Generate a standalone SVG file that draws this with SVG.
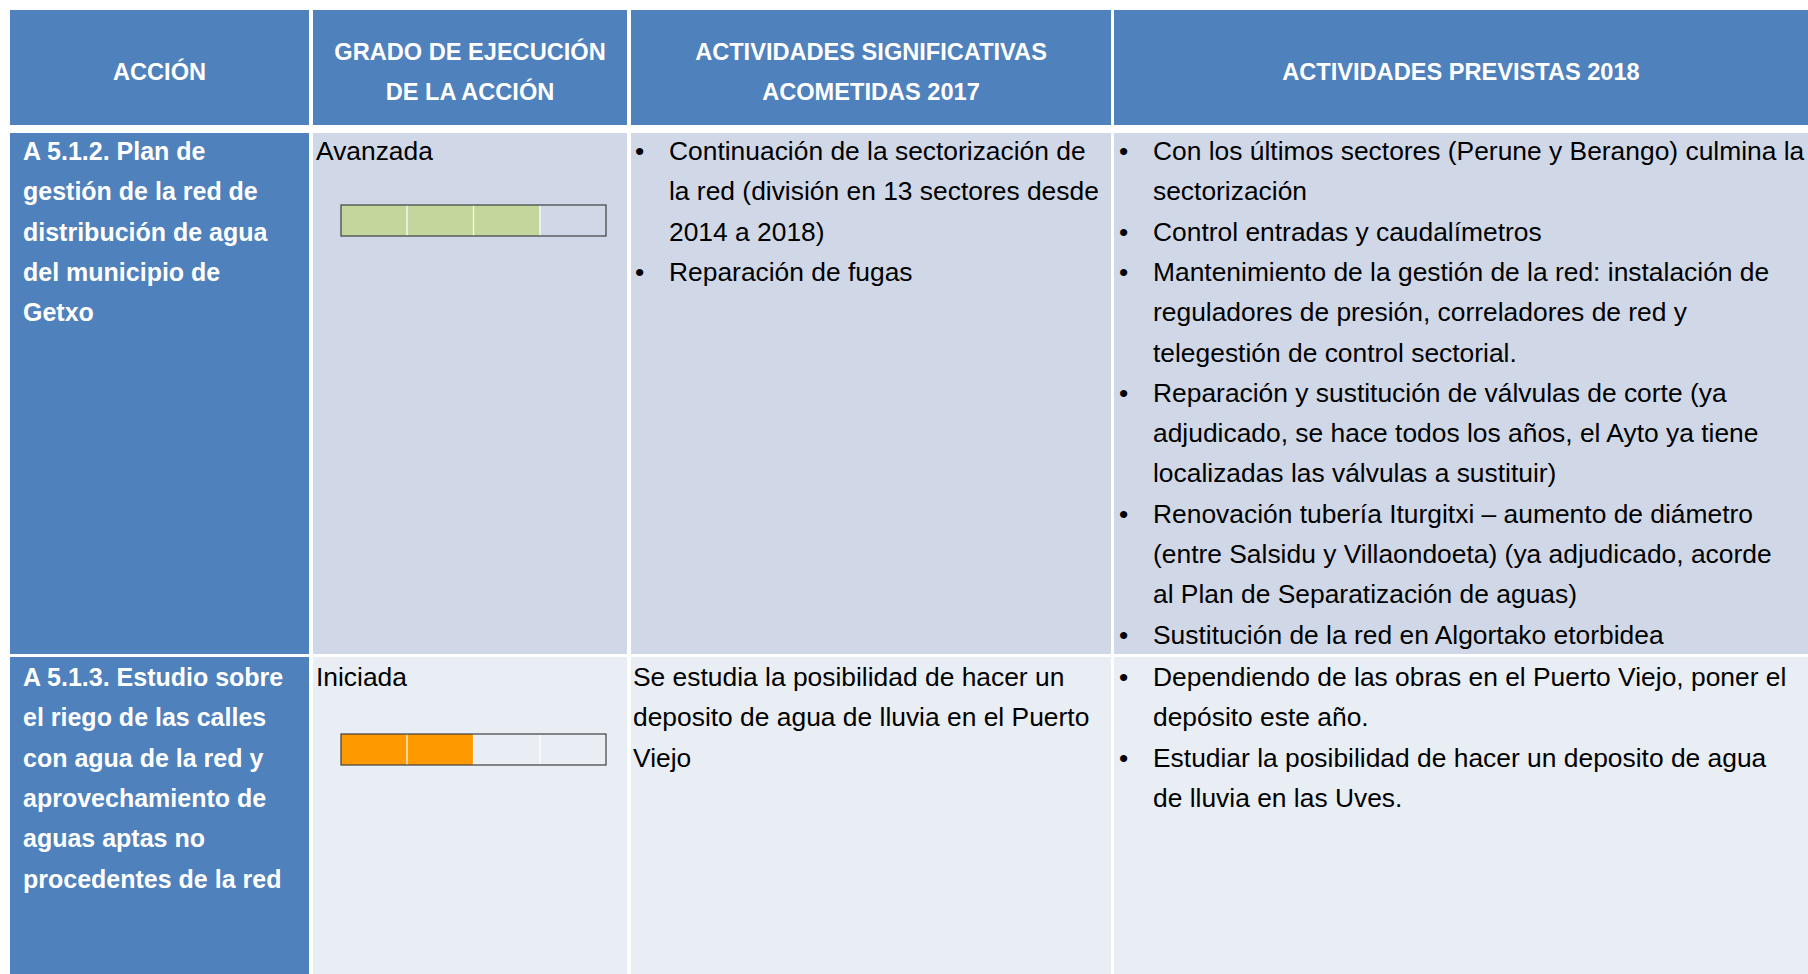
<svg xmlns="http://www.w3.org/2000/svg" width="1808" height="974" viewBox="0 0 1808 974">
<style>
.hd{fill:#4F81BD}
.r1{fill:#D0D8E8}
.r2{fill:#E9EDF4}
.ht{font-family:"Liberation Sans",Arial,sans-serif;font-weight:bold;font-size:23.6px;fill:#FFFFFF;text-anchor:middle}
.at{font-family:"Liberation Sans",Arial,sans-serif;font-weight:bold;font-size:25px;fill:#FFFFFF}
.bt{font-family:"Liberation Sans",Arial,sans-serif;font-size:26.4px;fill:#000000}
.bar{fill:none;stroke:#3F3F3F;stroke-width:1.2}
.div{stroke:#FFFFFF;stroke-width:1.2}
</style>
<rect x="0" y="0" width="1808" height="974" fill="#FFFFFF"/>
<g id="header">
<g id="h-accion"><rect class="hd" x="10" y="10" width="299" height="115"/><text class="ht" x="159.5" y="80">ACCIÓN</text></g>
<g id="h-grado"><rect class="hd" x="313" y="10" width="314" height="115"/><text class="ht" x="470" y="60">GRADO DE EJECUCIÓN</text><text class="ht" x="470" y="100">DE LA ACCIÓN</text></g>
<g id="h-act2017"><rect class="hd" x="631" y="10" width="480" height="115"/><text class="ht" x="871" y="60">ACTIVIDADES SIGNIFICATIVAS</text><text class="ht" x="871" y="100">ACOMETIDAS 2017</text></g>
<g id="h-prev2018"><rect class="hd" x="1114" y="10" width="694" height="115"/><text class="ht" x="1461" y="80">ACTIVIDADES PREVISTAS 2018</text></g>
</g>
<g id="row1">
<g id="r1-accion"><rect class="hd" x="10" y="133" width="299" height="521"/>
<text class="at" x="23" y="160">A 5.1.2. Plan de</text>
<text class="at" x="23" y="200.3">gestión de la red de</text>
<text class="at" x="23" y="240.6">distribución de agua</text>
<text class="at" x="23" y="280.9">del municipio de</text>
<text class="at" x="23" y="321.2">Getxo</text></g>
<g id="r1-grado"><rect class="r1" x="313" y="133" width="314" height="521"/>
<text class="bt" x="316" y="160">Avanzada</text>
<rect x="341" y="205" width="199" height="31" fill="#C3D69B"/>
<line class="div" x1="407" y1="205" x2="407" y2="236"/><line class="div" x1="473.5" y1="205" x2="473.5" y2="236"/><line class="div" x1="540" y1="205" x2="540" y2="236"/>
<rect class="bar" x="341" y="205" width="265" height="31"/></g>
<g id="r1-act2017"><rect class="r1" x="631" y="133" width="480" height="521"/>
<text class="bt" x="635" y="160">•</text><text class="bt" x="669" y="160">Continuación de la sectorización de</text>
<text class="bt" x="669" y="200.3">la red (división en 13 sectores desde</text>
<text class="bt" x="669" y="240.6">2014 a 2018)</text>
<text class="bt" x="635" y="280.9">•</text><text class="bt" x="669" y="280.9">Reparación de fugas</text></g>
<g id="r1-prev2018"><rect class="r1" x="1114" y="133" width="694" height="521"/>
<text class="bt" x="1119" y="160">•</text><text class="bt" x="1153" y="160">Con los últimos sectores (Perune y Berango) culmina la</text>
<text class="bt" x="1153" y="200.3">sectorización</text>
<text class="bt" x="1119" y="240.6">•</text><text class="bt" x="1153" y="240.6">Control entradas y caudalímetros</text>
<text class="bt" x="1119" y="280.9">•</text><text class="bt" x="1153" y="280.9">Mantenimiento de la gestión de la red: instalación de</text>
<text class="bt" x="1153" y="321.2">reguladores de presión, correladores de red y</text>
<text class="bt" x="1153" y="361.5">telegestión de control sectorial.</text>
<text class="bt" x="1119" y="401.8">•</text><text class="bt" x="1153" y="401.8">Reparación y sustitución de válvulas de corte (ya</text>
<text class="bt" x="1153" y="442.1">adjudicado, se hace todos los años, el Ayto ya tiene</text>
<text class="bt" x="1153" y="482.4">localizadas las válvulas a sustituir)</text>
<text class="bt" x="1119" y="522.7">•</text><text class="bt" x="1153" y="522.7">Renovación tubería Iturgitxi – aumento de diámetro</text>
<text class="bt" x="1153" y="563">(entre Salsidu y Villaondoeta) (ya adjudicado, acorde</text>
<text class="bt" x="1153" y="603.3">al Plan de Separatización de aguas)</text>
<text class="bt" x="1119" y="643.6">•</text><text class="bt" x="1153" y="643.6">Sustitución de la red en Algortako etorbidea</text></g>
</g>
<g id="row2">
<g id="r2-accion"><rect class="hd" x="10" y="657" width="299" height="317"/>
<text class="at" x="23" y="686">A 5.1.3. Estudio sobre</text>
<text class="at" x="23" y="726.3">el riego de las calles</text>
<text class="at" x="23" y="766.6">con agua de la red y</text>
<text class="at" x="23" y="806.9">aprovechamiento de</text>
<text class="at" x="23" y="847.2">aguas aptas no</text>
<text class="at" x="23" y="887.5">procedentes de la red</text></g>
<g id="r2-grado"><rect class="r2" x="313" y="657" width="314" height="317"/>
<text class="bt" x="316" y="686">Iniciada</text>
<rect x="341" y="734" width="132.5" height="31" fill="#FF9900"/>
<line class="div" x1="407" y1="734" x2="407" y2="765"/><line class="div" x1="473.5" y1="734" x2="473.5" y2="765"/><line class="div" x1="540" y1="734" x2="540" y2="765"/>
<rect class="bar" x="341" y="734" width="265" height="31"/></g>
<g id="r2-act2017"><rect class="r2" x="631" y="657" width="480" height="317"/>
<text class="bt" x="633" y="686">Se estudia la posibilidad de hacer un</text>
<text class="bt" x="633" y="726.3">deposito de agua de lluvia en el Puerto</text>
<text class="bt" x="633" y="766.6">Viejo</text></g>
<g id="r2-prev2018"><rect class="r2" x="1114" y="657" width="694" height="317"/>
<text class="bt" x="1119" y="686">•</text><text class="bt" x="1153" y="686">Dependiendo de las obras en el Puerto Viejo, poner el</text>
<text class="bt" x="1153" y="726.3">depósito este año.</text>
<text class="bt" x="1119" y="766.6">•</text><text class="bt" x="1153" y="766.6">Estudiar la posibilidad de hacer un deposito de agua</text>
<text class="bt" x="1153" y="806.9">de lluvia en las Uves.</text></g>
</g>
</svg>
